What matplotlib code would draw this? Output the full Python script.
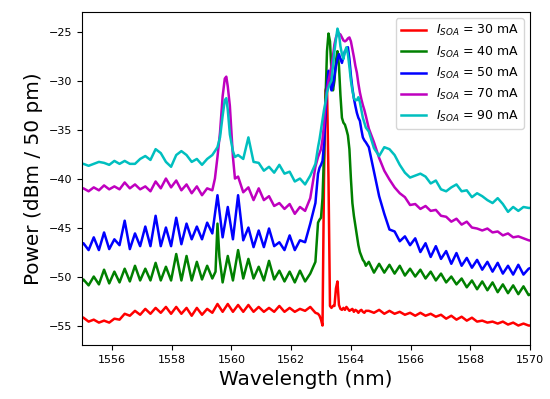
import numpy as np
import matplotlib
matplotlib.use("Agg")
import matplotlib.pyplot as plt

# sample grids (nm): ripple region left of the lasing line, the line itself, ripple region right
wl_left = np.round(1554.8775 + 0.1725 * np.arange(47), 4)
wl_peak = np.round(1562.90 + 0.05 * np.arange(33), 3)
wl_right = np.round(1564.60 + 0.1725 * np.arange(33), 4)

currents = [30, 40, 50, 70, 90]   # mA
colors = ["r", "g", "b", "m", "c"]

# power values (dBm / 50 pm)
red_left = [-54.0, -54.2, -54.6, -54.4, -54.7, -54.5, -54.7, -54.3, -54.4, -53.8,
            -54.0, -53.5, -53.9, -53.3, -53.8, -53.2, -53.7, -53.1, -53.8, -53.1,
            -53.8, -53.2, -54.0, -53.2, -53.9, -53.3, -53.7, -52.8, -53.6, -52.8,
            -53.6, -52.9, -53.6, -52.9, -53.6, -53.1, -53.6, -53.2, -53.6, -53.0,
            -53.6, -53.2, -53.6, -53.3, -53.5, -53.1, -53.7]
red_peak = [-53.8, -54.0, -54.4, -55.0, -40.0, -31.0, -30.5, -40.0, -53.0, -53.2,
            -53.0, -53.0, -51.2, -50.5, -52.9, -53.3, -53.4, -53.2, -53.4, -53.1,
            -53.3, -53.5, -53.4, -53.3, -53.6, -53.4, -53.5, -53.7, -53.5, -53.4,
            -53.6, -53.7, -53.5]
red_right = [-53.5, -53.7, -53.4, -53.8, -53.5, -53.8, -53.6, -53.9, -53.7, -54.0,
             -53.7, -54.0, -53.8, -54.1, -53.9, -54.3, -54.0, -54.4, -54.1, -54.5,
             -54.2, -54.6, -54.5, -54.7, -54.6, -54.8, -54.6, -54.9, -54.7, -55.0,
             -54.8, -55.0, -55.0]

green_left = [-51.0, -50.3, -50.9, -50.0, -50.8, -49.3, -50.7, -49.5, -50.6, -49.2,
              -50.5, -48.9, -50.4, -49.2, -50.4, -48.6, -50.4, -49.0, -50.4, -47.7,
              -50.4, -47.9, -50.4, -48.5, -50.3, -48.9, -50.2, -44.6, -50.6, -47.9,
              -50.4, -47.3, -50.2, -48.2, -50.2, -49.0, -50.4, -48.4, -50.3, -49.4,
              -50.5, -49.5, -50.6, -49.4, -50.5, -49.7, -48.5]
green_peak = [-44.5, -44.2, -44.0, -42.0, -37.5, -32.0, -27.0, -25.2, -26.0, -29.0,
              -31.0, -30.0, -28.0, -27.0, -28.5, -31.5, -33.8, -34.3, -34.5, -35.0,
              -35.6, -37.0, -40.0, -42.5, -43.8, -44.8, -45.8, -46.8, -47.5, -47.9,
              -48.3, -48.5, -48.9]
green_right = [-48.5, -49.6, -48.7, -49.6, -48.8, -49.7, -48.9, -49.9, -49.2, -50.0,
               -49.3, -50.2, -49.5, -50.4, -49.7, -50.6, -50.0, -50.8, -50.2, -51.1,
               -50.4, -51.3, -50.5, -51.4, -50.6, -51.6, -50.8, -51.7, -50.9, -51.8,
               -51.0, -51.9, -51.6]

blue_left = [-47.2, -46.6, -47.3, -46.0, -47.3, -45.5, -47.2, -46.2, -46.8, -44.3,
             -47.2, -45.6, -46.9, -44.9, -46.9, -43.8, -46.9, -45.0, -46.9, -44.0,
             -46.7, -44.6, -46.2, -44.9, -46.2, -44.5, -45.6, -41.7, -46.0, -42.9,
             -46.2, -41.7, -46.3, -45.0, -47.0, -45.3, -47.0, -45.1, -46.9, -46.5,
             -47.3, -45.8, -47.3, -46.3, -46.5, -44.6, -42.5]
blue_peak = [-39.5, -38.9, -38.6, -38.2, -36.5, -33.5, -30.5, -29.0, -30.0, -31.0,
             -30.5, -29.5, -28.5, -27.8, -27.3, -27.8, -28.2, -27.6, -27.0, -27.0,
             -26.6, -27.8, -29.5, -30.8, -31.8, -32.6, -33.3, -33.8, -34.1, -35.0,
             -35.8, -36.1, -36.3]
blue_right = [-36.8, -39.3, -41.8, -43.6, -45.2, -45.4, -46.4, -45.9, -46.8, -46.1,
              -47.5, -46.6, -48.0, -46.9, -48.2, -47.4, -48.7, -47.6, -48.9, -48.1,
              -49.1, -48.3, -49.3, -48.5, -49.5, -48.6, -49.7, -48.9, -49.8, -48.8,
              -49.8, -49.2, -49.0]

mag_left = [-41.2, -41.0, -41.3, -40.9, -41.2, -40.7, -41.1, -40.8, -41.1, -40.4,
            -41.0, -40.6, -41.1, -40.8, -41.3, -40.3, -41.0, -40.0, -40.9, -40.2,
            -41.2, -40.6, -41.5, -40.8, -41.7, -41.0, -41.2, -37.8, -31.6, -30.6,
            -37.8, -39.8, -41.4, -40.9, -42.2, -41.0, -42.2, -41.8, -42.8, -42.5,
            -43.1, -42.6, -43.6, -42.9, -43.3, -42.0, -38.8]
mag_peak = [-37.8, -37.4, -37.0, -36.0, -34.5, -32.5, -31.0, -30.0, -29.3, -28.5,
            -27.5, -26.3, -25.6, -25.2, -25.2, -25.3, -25.6, -25.9, -26.0, -25.9,
            -25.7, -25.6, -26.0, -26.8, -27.6, -28.5, -29.2, -30.3, -31.2, -31.9,
            -32.5, -33.0, -33.6]
mag_right = [-34.9, -36.3, -37.9, -39.2, -40.1, -40.9, -41.5, -41.9, -42.7, -42.6,
             -43.1, -42.8, -43.3, -43.2, -43.8, -43.9, -44.4, -44.1, -44.7, -44.4,
             -45.0, -45.1, -45.3, -45.1, -45.5, -45.4, -45.8, -45.6, -46.0, -45.9,
             -46.1, -46.3, -46.4]

cyan_left = [-38.6, -38.5, -38.7, -38.5, -38.3, -38.4, -38.6, -38.2, -38.5, -38.2,
             -38.5, -38.5, -38.0, -37.7, -38.1, -37.0, -37.4, -38.3, -38.8, -37.6,
             -37.2, -37.6, -38.3, -38.0, -38.6, -38.0, -37.6, -36.8, -33.6, -33.0,
             -37.2, -37.6, -38.0, -35.8, -38.3, -38.4, -39.2, -38.8, -39.4, -38.6,
             -39.5, -39.3, -40.3, -40.0, -40.6, -39.7, -38.5]
cyan_peak = [-36.8, -36.0, -35.0, -34.0, -33.0, -32.2, -31.2, -30.7, -30.3, -30.0,
             -28.5, -27.0, -25.8, -24.7, -25.2, -26.5, -27.3, -27.8, -27.0, -26.6,
             -27.3, -28.6, -30.0, -31.0, -31.8, -32.0, -32.0, -31.7, -32.2, -33.0,
             -33.8, -34.3, -34.8]
cyan_right = [-35.2, -36.9, -37.7, -36.8, -37.0, -37.6, -38.6, -39.4, -39.9, -39.7,
              -39.5, -39.8, -40.5, -40.2, -41.1, -41.3, -40.9, -40.6, -41.3, -41.2,
              -41.9, -41.5, -41.8, -42.2, -42.5, -42.0, -42.6, -43.4, -42.9, -43.3,
              -42.9, -43.0, -43.0]

# extra samples around the 1559.6-1559.8 nm side features
green_side_wl = [1559.47, 1559.60]
green_side = [-49.5, -48.0]
side_wl = [1559.45, 1559.62, 1559.78, 1559.83, 1559.95, 1560.12]
mag_side = [-40.0, -35.3, -29.8, -29.6, -32.6, -40.0]
cyan_side = [-37.2, -35.8, -32.0, -31.8, -35.5, -37.8]

curves = [
    (red_left, [], [], red_peak, red_right),
    (green_left, green_side_wl, green_side, green_peak, green_right),
    (blue_left, [], [], blue_peak, blue_right),
    (mag_left, side_wl, mag_side, mag_peak, mag_right),
    (cyan_left, side_wl, cyan_side, cyan_peak, cyan_right),
]

fig = plt.figure(figsize=(5.5, 3.99), dpi=100)
ax = fig.add_axes([0.149, 0.135, 0.815, 0.835])

for cur, col, (pl, swl, sp, pp, pr) in zip(currents, colors, curves):
    wl = np.concatenate([wl_left, swl, wl_peak, wl_right])
    pw = np.concatenate([pl, sp, pp, pr])
    order = np.argsort(wl)
    ax.plot(wl[order], pw[order], color=col, linewidth=1.8,
            label=r"$I_{SOA}$ = %d mA" % cur)

ax.set_xlim(1555, 1570)
ax.set_ylim(-57, -23)
ax.set_xticks(np.arange(1556, 1571, 2))
ax.set_yticks(np.arange(-55, -24, 5))
ax.tick_params(labelsize=8)
ax.set_xlabel("Wavelength (nm)", fontsize=14.4)
ax.set_ylabel("Power (dBm / 50 pm)", fontsize=14.4)
ax.legend(loc="upper right", fontsize=9)

fig.savefig("out.png", dpi=100)
